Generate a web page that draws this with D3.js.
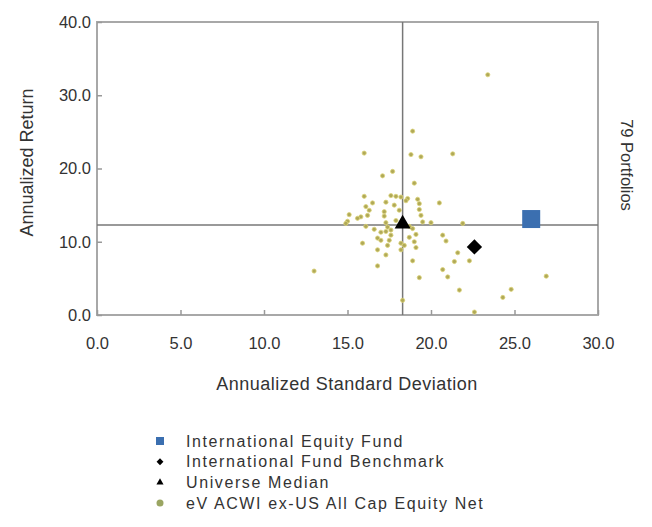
<!DOCTYPE html>
<html>
<head>
<meta charset="utf-8">
<script src="https://cdn.jsdelivr.net/npm/d3@7"></script>
<style>
  body { margin: 0; background: #fff; }
  text { font-family: "Liberation Sans", Arial, sans-serif; fill: #333; }
</style>
</head>
<body>
<script>
// peer universe: [std dev, return]
const universe = [
  [23.4, 32.8], [18.9, 25.1], [16.0, 22.1], [18.8, 21.9], [19.4, 21.6], [21.3, 22.0],
  [17.7, 19.6], [17.1, 19.0], [19.0, 18.0], [16.0, 16.2], [17.6, 16.3], [17.9, 16.2],
  [18.2, 16.1], [18.6, 15.9], [19.2, 15.8], [19.3, 15.2], [20.5, 15.3], [17.3, 15.4],
  [17.8, 15.0], [16.1, 14.8], [16.3, 14.3], [19.3, 14.4], [17.2, 14.1], [16.2, 13.6],
  [15.1, 13.7], [15.8, 13.4], [17.2, 13.5], [19.4, 13.6], [19.5, 12.7], [15.6, 13.2],
  [15.0, 12.8], [14.9, 12.5], [20.0, 12.6], [21.9, 12.5], [16.1, 12.1], [17.3, 12.6],
  [17.4, 12.0], [17.3, 11.4], [18.9, 11.8], [17.6, 11.6], [17.6, 10.9], [20.7, 10.9],
  [16.8, 10.5], [17.0, 10.2], [17.5, 10.2], [19.0, 10.0], [20.9, 10.1], [15.9, 9.8],
  [18.2, 9.8], [17.4, 9.5], [18.4, 9.5], [19.1, 9.2], [16.8, 8.9], [18.2, 8.9],
  [21.6, 8.5], [17.3, 8.2], [18.9, 7.4], [21.4, 7.3], [22.3, 7.4], [16.8, 6.7],
  [13.0, 6.0], [20.7, 6.2], [21.0, 5.2], [19.3, 5.1], [26.9, 5.3], [21.7, 3.4],
  [24.8, 3.5], [24.3, 2.4], [18.3, 2.0], [22.6, 0.4], [18.5, 15.6], [17.9, 12.9],
  [18.7, 12.1], [17.0, 11.3], [19.1, 11.0], [16.5, 15.3], [18.1, 14.3], [18.7, 10.6],
  [16.6, 11.7]
];
const fund = [26.0, 13.1];
const benchmark = [22.6, 9.3];
const median = [18.3, 12.3];

const xTicks = [0, 5, 10, 15, 20, 25, 30];
const yTicks = [0, 10, 20, 30, 40];

const legendItems = [
  { label: 'International Equity Fund', shape: 'square', color: '#3b6fb0' },
  { label: 'International Fund Benchmark', shape: 'diamond', color: '#000' },
  { label: 'Universe Median', shape: 'triangle', color: '#000' },
  { label: 'eV ACWI ex-US All Cap Equity Net', shape: 'circle', color: '#9aa562' }
];

const width = 652, height = 527;
const plot = { left: 97, right: 598, top: 22, bottom: 315 };

const svg = d3.select('body').append('svg')
  .attr('width', width)
  .attr('height', height);

const x = d3.scaleLinear().domain([0, 30]).range([plot.left, plot.right]);
const y = d3.scaleLinear().domain([0, 40]).range([plot.bottom, plot.top]);

// frame
svg.append('rect')
  .attr('x', plot.left).attr('y', plot.top)
  .attr('width', plot.right - plot.left).attr('height', plot.bottom - plot.top)
  .attr('fill', 'none').attr('stroke', '#a8a8a8').attr('stroke-width', 2);

// axes
const xAxis = svg.append('g')
  .attr('transform', `translate(0, ${plot.bottom})`)
  .call(d3.axisBottom(x).tickValues(xTicks).tickFormat(d3.format('.1f')).tickSizeInner(-5).tickSizeOuter(0).tickPadding(22));
const yAxis = svg.append('g')
  .attr('transform', `translate(${plot.left}, 0)`)
  .call(d3.axisLeft(y).tickValues(yTicks).tickFormat(d3.format('.1f')).tickSizeInner(-5).tickSizeOuter(0).tickPadding(6));

[xAxis, yAxis].forEach(a => {
  a.select('.domain').remove();
  a.selectAll('line').attr('stroke', '#999').attr('stroke-width', 1.5);
  a.selectAll('text').attr('font-size', 16.5).attr('fill', '#333')
    .attr('font-family', '"Liberation Sans", Arial, sans-serif');
});

// crosshair at universe median
svg.append('line')
  .attr('x1', x(median[0])).attr('x2', x(median[0]))
  .attr('y1', plot.top).attr('y2', plot.bottom)
  .attr('stroke', '#777').attr('stroke-width', 1.5);
svg.append('line')
  .attr('x1', plot.left).attr('x2', plot.right)
  .attr('y1', y(median[1])).attr('y2', y(median[1]))
  .attr('stroke', '#777').attr('stroke-width', 1.5);

// universe points
svg.append('g').selectAll('circle').data(universe)
  .enter().append('circle')
  .attr('cx', d => x(d[0]))
  .attr('cy', d => y(d[1]))
  .attr('r', 2.1)
  .attr('fill', '#b0a958')
  .attr('stroke', '#dcd378')
  .attr('stroke-width', 0.8);

// benchmark, median, fund
svg.append('path')
  .attr('d', d3.symbol(d3.symbolDiamond2, 150)())
  .attr('transform', `translate(${x(benchmark[0])}, ${y(benchmark[1])})`)
  .attr('fill', '#000');
svg.append('path')
  .attr('d', d3.symbol(d3.symbolTriangle, 110)())
  .attr('transform', `translate(${x(median[0])}, ${y(median[1]) - 1})`)
  .attr('fill', '#000');
svg.append('rect')
  .attr('x', x(fund[0]) - 9).attr('y', y(fund[1]) - 9)
  .attr('width', 18).attr('height', 18)
  .attr('fill', '#3b6fb0');

// titles
svg.append('text')
  .attr('x', 347)
  .attr('y', 390)
  .attr('text-anchor', 'middle')
  .attr('font-size', 18)
  .attr('letter-spacing', 0.5)
  .text('Annualized Standard Deviation');

svg.append('text')
  .attr('transform', `translate(33, ${(plot.top + plot.bottom) / 2 - 6}) rotate(-90)`)
  .attr('text-anchor', 'middle')
  .attr('font-size', 18)
  .text('Annualized Return');

svg.append('text')
  .attr('transform', 'translate(621, 165) rotate(90)')
  .attr('text-anchor', 'middle')
  .attr('font-size', 16.5)
  .text('79 Portfolios');

// legend
const legend = svg.append('g').attr('transform', 'translate(160, 441)');
const row = legend.selectAll('g').data(legendItems)
  .enter().append('g')
  .attr('transform', (d, i) => `translate(0, ${i * 20.7})`);

row.each(function(d) {
  const g = d3.select(this);
  if (d.shape === 'square') {
    g.append('rect').attr('x', -4).attr('y', -4).attr('width', 8).attr('height', 8).attr('fill', d.color);
  } else if (d.shape === 'diamond') {
    g.append('path').attr('d', d3.symbol(d3.symbolDiamond2, 30)()).attr('fill', d.color);
  } else if (d.shape === 'triangle') {
    g.append('path').attr('d', d3.symbol(d3.symbolTriangle, 22)()).attr('fill', d.color);
  } else {
    g.append('circle').attr('r', 3.5).attr('fill', d.color);
  }
});

row.append('text')
  .attr('x', 26)
  .attr('y', 5.5)
  .attr('font-size', 16)
  .attr('letter-spacing', 1.6)
  .text(d => d.label);
</script>
</body>
</html>
